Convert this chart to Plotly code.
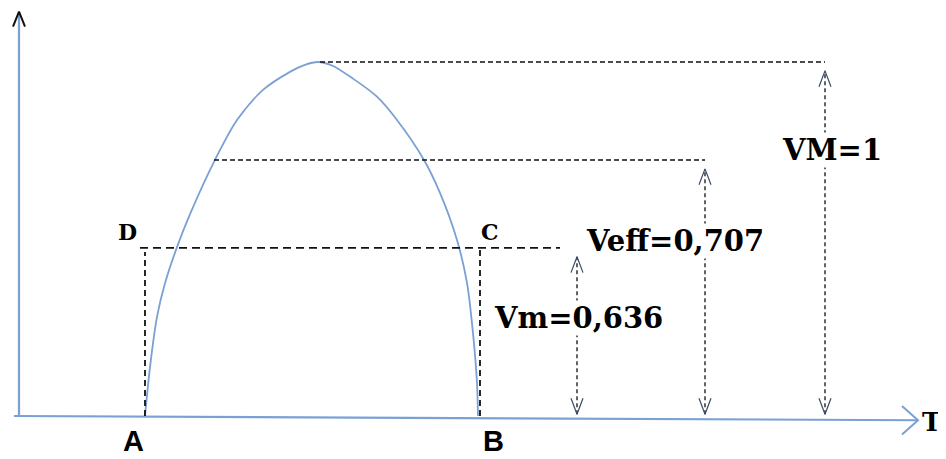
import plotly.graph_objects as go

# drawing units: x in px-like steps along T, y in volts (VM = 1)
curve_x = [145, 150, 157, 165, 177, 190, 214, 237, 263, 290, 305, 318,
           332, 353, 377, 397, 424, 440, 457, 467, 473, 477, 478]
curve_y = [0.0, 0.138, 0.280, 0.375, 0.477, 0.570, 0.718, 0.836, 0.921, 0.972, 0.992, 1.0,
           0.990, 0.953, 0.902, 0.836, 0.723, 0.630, 0.497, 0.376, 0.234, 0.093, 0.0]

axis_x = [14, 918]
axis_y = [0.0, -0.012]
yaxis_x = 19
yaxis_top = 1.14

level_names = ["Vm", "Veff", "VM"]
level_y = [0.475, 0.723, 1.0]        # drawn heights
level_start = [140, 214, 320]        # where each dashed level line starts
arrow_x = [577, 705, 825]            # double arrows
labels = ["Vm=0,636", "Veff=0,707", "VM=1"]
label_x = [578, 675, 832]
label_y = [0.277, 0.494, 0.751]

A_x, B_x = 145, 480
points = ["A", "B", "C", "D"]
point_x = [133, 493, 490, 127]
point_y = [-0.071, -0.071, 0.52, 0.52]

blue = "#7aa0d4"
ink = "#111111"

fig = go.Figure()

# axes
fig.add_trace(go.Scatter(x=axis_x, y=axis_y, mode="lines",
                         line=dict(color=blue, width=2.2)))
fig.add_trace(go.Scatter(x=[yaxis_x, yaxis_x], y=[axis_y[0], yaxis_top], mode="lines",
                         line=dict(color=blue, width=2.2)))
# arrow heads of the axes
tx, ty = axis_x[1], axis_y[1]
fig.add_trace(go.Scatter(x=[tx - 16, tx, tx - 16], y=[ty + 0.04, ty, ty - 0.04], mode="lines",
                         line=dict(color=blue, width=2)))
fig.add_trace(go.Scatter(x=[yaxis_x - 6, yaxis_x, yaxis_x + 6],
                         y=[yaxis_top - 0.04, yaxis_top + 0.002, yaxis_top - 0.04], mode="lines",
                         line=dict(color=ink, width=2)))

# half wave
fig.add_trace(go.Scatter(x=curve_x, y=curve_y, mode="lines",
                         line=dict(color=blue, width=1.8, shape="spline", smoothing=0.8)))

# level lines
for i in range(3):
    end = arrow_x[i] if i > 0 else 560
    dash = "8px,5px" if i == 0 else "5px,3px"
    fig.add_trace(go.Scatter(x=[level_start[i], end], y=[level_y[i], level_y[i]], mode="lines",
                             line=dict(color=ink, width=1.7 if i == 0 else 1.5, dash=dash)))

# verticals at A and B (D and C corners)
fig.add_trace(go.Scatter(x=[A_x, A_x], y=[0, level_y[0] - 0.012], mode="lines",
                         line=dict(color=ink, width=1.8, dash="6px,4px")))
fig.add_trace(go.Scatter(x=[B_x, B_x], y=[0, level_y[0]], mode="lines",
                         line=dict(color=ink, width=1.8, dash="6px,4px")))

# double arrows
for i in range(3):
    x = arrow_x[i]
    top = level_y[i] - 0.025
    bot = 0.005
    fig.add_trace(go.Scatter(x=[x, x], y=[bot, top], mode="lines",
                             line=dict(color=ink, width=1.3, dash="4px,3px")))
    fig.add_trace(go.Scatter(x=[x - 6, x, x + 6], y=[top - 0.045, top, top - 0.045], mode="lines",
                             line=dict(color="#3a4a66", width=1.2)))
    fig.add_trace(go.Scatter(x=[x - 6, x, x + 6], y=[bot + 0.045, bot, bot + 0.045], mode="lines",
                             line=dict(color="#3a4a66", width=1.2)))

serif = "DejaVu Serif"
for i in range(3):
    fig.add_annotation(x=label_x[i], y=label_y[i], text="<b>" + labels[i] + "</b>",
                       showarrow=False, bgcolor="white", borderpad=0,
                       font=dict(family=serif, size=29, color="black"))

for i in range(4):
    is_sans = points[i] in ("A", "B")
    fig.add_annotation(x=point_x[i], y=point_y[i], text="<b>" + points[i] + "</b>",
                       showarrow=False,
                       font=dict(family="Liberation Sans" if is_sans else serif,
                                 size=29 if is_sans else 22, color="black"))

fig.add_annotation(x=932, y=-0.017, text="<b>T</b>", showarrow=False,
                   font=dict(family=serif, size=26, color="black"))

# the page puts the plot 8px in from the window corner, so the ranges start there
fig.update_layout(width=938, height=451, margin=dict(l=0, r=0, t=0, b=0),
                  plot_bgcolor="white", paper_bgcolor="white", showlegend=False)
fig.update_xaxes(range=[8, 946], visible=False)
fig.update_yaxes(range=[-0.1215, 1.1525], visible=False)

fig.write_html("out.html")
